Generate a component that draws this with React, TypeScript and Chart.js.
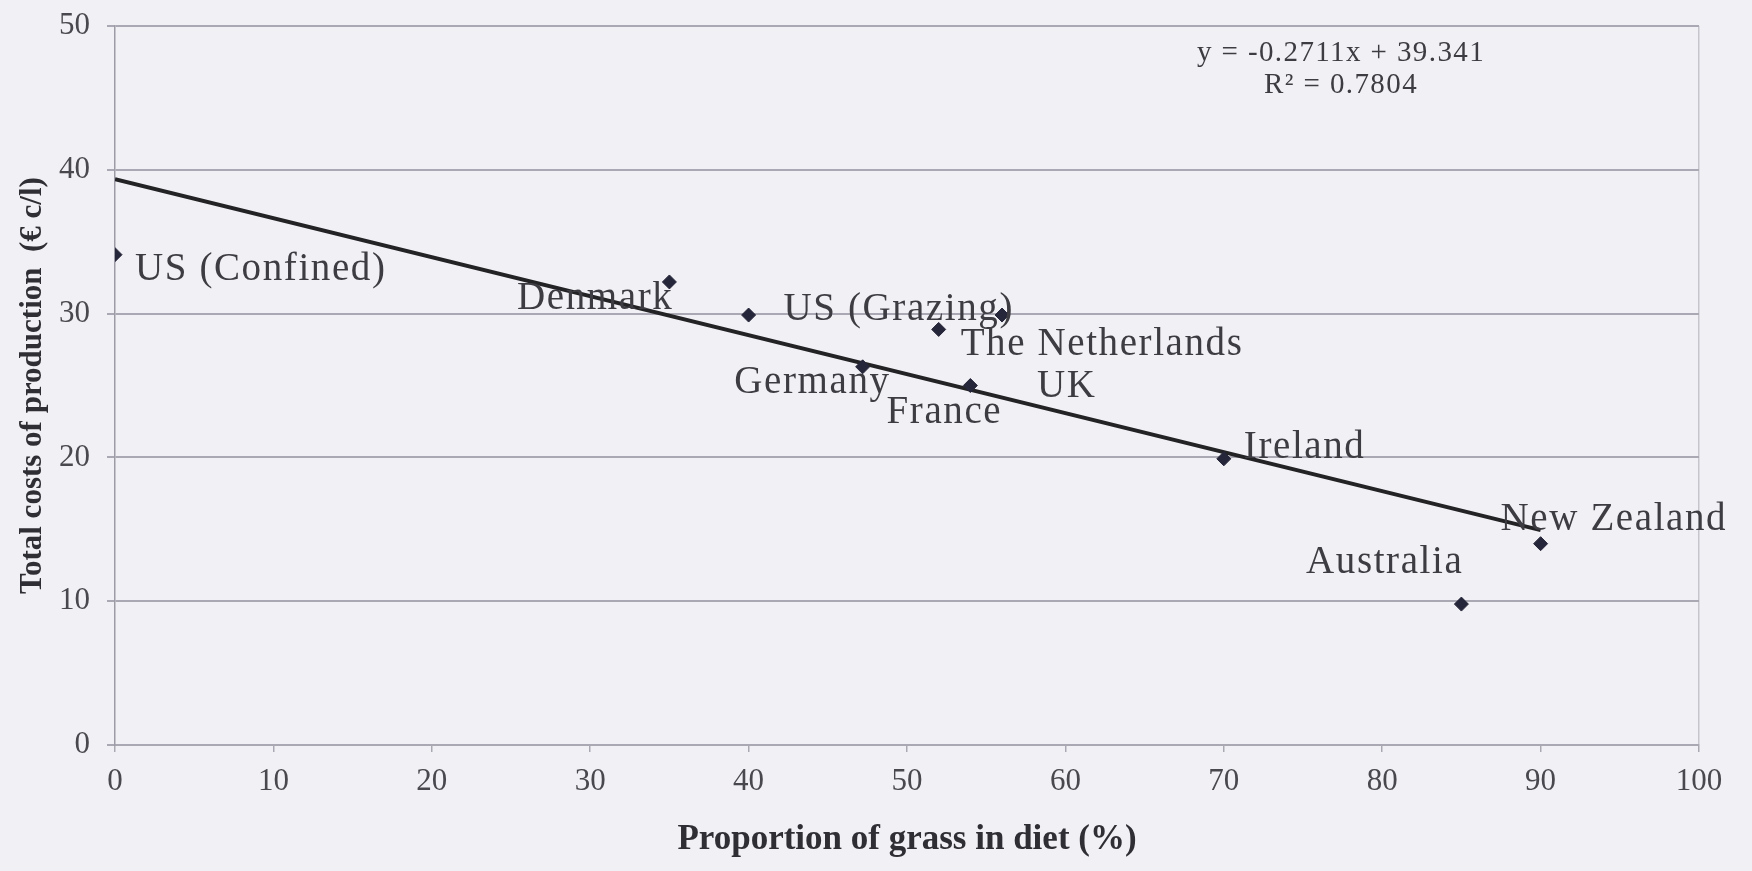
import React, { useEffect, useRef } from "react";
import { Chart, registerables } from "chart.js";

Chart.register(...registerables);

// ---- Data ----
const countries = [
  "US (Confined)",
  "Denmark",
  "US (Grazing)",
  "The Netherlands",
  "UK",
  "Germany",
  "France",
  "Ireland",
  "New Zealand",
  "Australia",
];
const grassShare = [0, 35, 40, 52, 56, 47.2, 54, 70, 90, 85];
const productionCost = [34.1, 32.2, 29.9, 28.9, 29.9, 26.3, 25.0, 19.9, 14.0, 9.8];

// Trendline as printed on the chart
const trendSlope = -0.2711;
const trendIntercept = 39.341;
const trendRange = [0, 90];
const equationLines = ["y = -0.2711x + 39.341", "R\u00B2 = 0.7804"];

const xTickValues = [0, 10, 20, 30, 40, 50, 60, 70, 80, 90, 100];
const yTickValues = [0, 10, 20, 30, 40, 50];
const xTitle = "Proportion of grass in diet (%)";
const yTitle = "Total costs of production  (\u20AC c/l)";

// ---- Styling (label placement offsets in pixels relative to each point) ----
const labelPlacement: { dx: number; dy: number; align: CanvasTextAlign }[] = [
  { dx: 20, dy: 15, align: "left" },
  { dx: 4, dy: 17, align: "right" },
  { dx: 35, dy: -5, align: "left" },
  { dx: 22, dy: 15, align: "left" },
  { dx: 35, dy: 72, align: "left" },
  { dx: 28, dy: 16, align: "right" },
  { dx: -26, dy: 27, align: "center" },
  { dx: 20, dy: -11, align: "left" },
  { dx: -40, dy: -24, align: "left" },
  { dx: 2, dy: -41, align: "right" },
];
const equationAnchor = { x: 77.4, y1: 48.1, y2: 45.9 };

const SERIF = "'Liberation Serif', 'DejaVu Serif', 'Times New Roman', serif";
const BG = "#f1f0f4";
const GRID = "#aaa9b3";
const TEXT = "#3c3c42";

const W = 1752;
const H = 871;

export default function App() {
  const canvasRef = useRef<HTMLCanvasElement | null>(null);

  useEffect(() => {
    const canvas = canvasRef.current;
    if (!canvas) return;

    const points = grassShare.map((x, i) => ({ x, y: productionCost[i] }));
    const trend = trendRange.map((x) => ({ x, y: trendSlope * x + trendIntercept }));

    const backgroundPlugin = {
      id: "bg",
      beforeDraw(chart: any) {
        const { ctx } = chart;
        ctx.save();
        ctx.fillStyle = BG;
        ctx.fillRect(0, 0, chart.width, chart.height);
        ctx.restore();
      },
    };

    const labelsPlugin = {
      id: "labels",
      afterDatasetsDraw(chart: any) {
        const { ctx } = chart;
        const xs = chart.scales.x;
        const ys = chart.scales.y;
        ctx.save();
        ctx.fillStyle = TEXT;
        ctx.textBaseline = "middle";
        ctx.font = `39px ${SERIF}`;
        (ctx as any).letterSpacing = "1.6px";
        countries.forEach((name, i) => {
          const p = labelPlacement[i];
          const px = xs.getPixelForValue(grassShare[i]);
          const py = ys.getPixelForValue(productionCost[i]);
          ctx.textAlign = p.align;
          ctx.fillText(name, px + p.dx, py + p.dy);
        });
        ctx.font = `29px ${SERIF}`;
        (ctx as any).letterSpacing = "1.4px";
        ctx.textAlign = "center";
        const ex = xs.getPixelForValue(equationAnchor.x);
        ctx.fillText(equationLines[0], ex, ys.getPixelForValue(equationAnchor.y1));
        ctx.fillText(equationLines[1], ex, ys.getPixelForValue(equationAnchor.y2));
        (ctx as any).letterSpacing = "0px";
        ctx.restore();
      },
    };

    const chart = new Chart(canvas, {
      type: "scatter",
      data: {
        datasets: [
          {
            label: "Countries",
            data: points,
            pointStyle: "rectRot",
            pointRadius: 7,
            pointBackgroundColor: "#26263a",
            pointBorderColor: "#26263a",
            showLine: false,
          },
          {
            label: "Trend",
            data: trend,
            showLine: true,
            pointRadius: 0,
            borderColor: "#232326",
            borderWidth: 4,
            fill: false,
          } as any,
        ],
      },
      options: {
        responsive: false,
        animation: false,
        devicePixelRatio: 1,
        layout: { padding: { left: 0, right: 53, top: 26, bottom: 0 } },
        plugins: {
          legend: { display: false },
          tooltip: { enabled: false },
        },
        scales: {
          x: {
            type: "linear",
            min: 0,
            max: 100,
            afterBuildTicks(scale: any) {
              scale.ticks = xTickValues.map((v) => ({ value: v }));
            },
            afterFit(scale: any) {
              scale.height = H - 745;
            },
            ticks: {
              color: "#48484e",
              font: { family: SERIF, size: 31 },
              padding: 11,
              maxRotation: 0,
            },
            grid: {
              color: (c: any) => (c.tick && c.tick.value === 100 ? "#c6c5cd" : "transparent"),
              tickColor: GRID,
              lineWidth: 1.5,
              tickLength: 7,
            },
            border: { color: GRID, width: 2 },
            title: {
              display: true,
              text: xTitle,
              color: "#2e2e34",
              font: { family: SERIF, size: 35, weight: "bold" },
              padding: { top: 0, bottom: 10 },
            },
          },
          y: {
            type: "linear",
            min: 0,
            max: 50,
            afterBuildTicks(scale: any) {
              scale.ticks = yTickValues.map((v) => ({ value: v }));
            },
            afterFit(scale: any) {
              scale.width = 115;
              scale.paddingTop = 0;
              scale.paddingBottom = 0;
            },
            ticks: {
              color: "#48484e",
              font: { family: SERIF, size: 31 },
              padding: 17,
            },
            grid: {
              color: GRID,
              lineWidth: 2,
              tickLength: 8,
            },
            border: { color: "#9d9ca6", width: 1.5 },
            title: {
              display: true,
              text: yTitle,
              color: "#2e2e34",
              font: { family: SERIF, size: 31, weight: "bold" },
              padding: { top: 14, bottom: 0 },
            },
          },
        },
      },
      plugins: [backgroundPlugin, labelsPlugin],
    });

    return () => chart.destroy();
  }, []);

  return (
    <div
      style={{
        position: "fixed",
        left: 0,
        top: 0,
        width: W,
        height: H,
        background: BG,
      }}
    >
      <canvas ref={canvasRef} width={W} height={H} style={{ width: W, height: H, display: "block" }} />
    </div>
  );
}
